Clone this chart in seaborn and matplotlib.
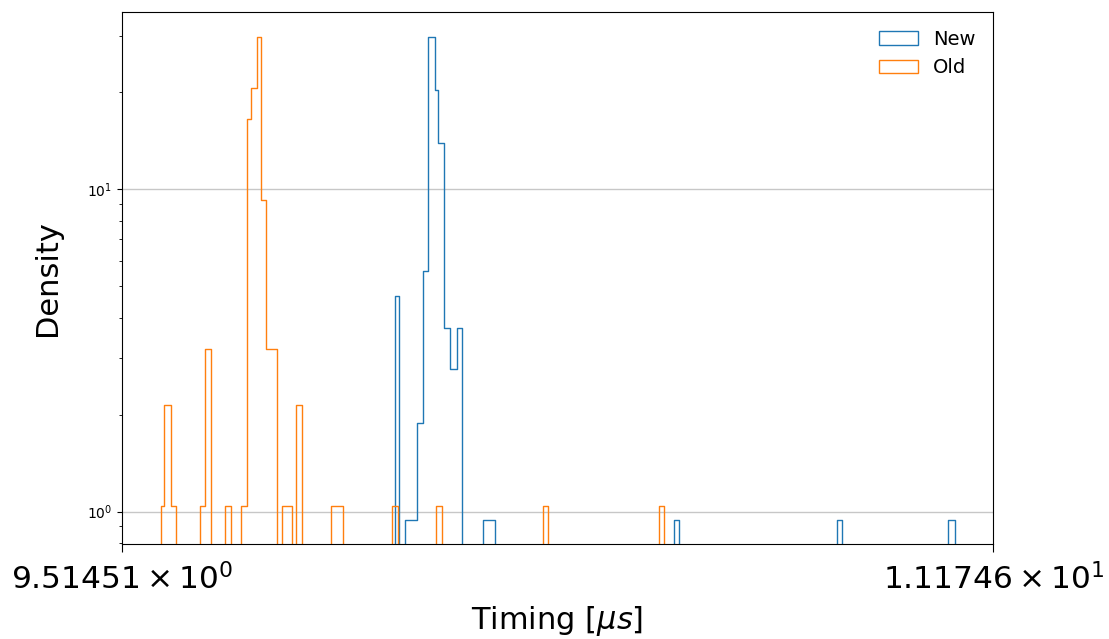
import numpy as np
import seaborn as sns
import matplotlib
matplotlib.use("Agg")
import matplotlib.pyplot as plt
from matplotlib.patches import Patch
from matplotlib.ticker import NullLocator

# bin edges [us] and densities
new_edges = [10.0066, 10.0146, 10.0251, 10.0479, 10.0590, 10.0683, 10.0807, 10.0869,
             10.0981, 10.1087, 10.1212, 10.1317, 10.1710, 10.1930, 10.5359, 10.5456,
             10.8570, 10.8670, 11.0823, 11.0960]
new_density = [4.66, 0, 0.94, 1.88, 5.6, 29.6, 20.3, 13.96, 3.72, 2.77, 3.72,
               0, 0.94, 0, 0.94, 0, 0.94, 0, 0.94]

old_edges = [9.5838, 9.5891, 9.6015, 9.6103, 9.6530, 9.6619, 9.6721, 9.6976, 9.7083,
             9.7257, 9.7365, 9.7442, 9.7545, 9.7622, 9.7712, 9.7906, 9.8007, 9.8188,
             9.8255, 9.8358, 9.8891, 9.9106, 10.0005, 10.0116, 10.0835, 10.0947,
             10.2842, 10.2937, 10.5062, 10.5159]
old_density = [1.04, 2.15, 1.04, 0, 1.04, 3.2, 0, 1.04, 0, 1.04, 16.5, 20.7, 29.6,
               9.3, 3.2, 0, 1.04, 0, 2.15, 0, 1.04, 0, 1.04, 0, 1.04, 0, 1.04, 0, 1.04]

labels = ["New", "Old"]
colors = ["tab:blue", "tab:orange"]
x_ticks = [9.51451, 11.1746]
x_tick_labels = [r"$\mathdefault{9.51451\times10^{0}}$", r"$\mathdefault{1.11746\times10^{1}}$"]

fig, ax = plt.subplots(figsize=(11.09, 6.39), dpi=100)
fig.subplots_adjust(left=0.1097, right=0.8957, top=0.9812, bottom=0.1487)


def draw_hist(edges, density, color):
    edges = np.asarray(edges)
    centers = (edges[:-1] + edges[1:]) / 2
    # empty bins of zero width at both ends so the outline drops to the baseline
    bins = [edges[0]] + list(edges) + [edges[-1]]
    sns.histplot(x=centers, weights=np.asarray(density, dtype=float), bins=bins,
                 element="step", fill=False, color=color, linewidth=1.0, ax=ax)


draw_hist(new_edges, new_density, colors[0])
draw_hist(old_edges, old_density, colors[1])

ax.set_xscale("log")
ax.set_yscale("log")
ax.set_xlim(x_ticks[0], x_ticks[1])
ax.set_ylim(0.794, 35.5)
ax.set_xticks(x_ticks, labels=x_tick_labels)
ax.xaxis.set_minor_locator(NullLocator())
ax.tick_params(axis="x", labelsize=22.5, length=6, pad=7.5)
ax.tick_params(axis="y", labelsize=10)

ax.grid(True, axis="y", which="major", color="#b0b0b0", alpha=0.7, linewidth=1.0)
ax.set_axisbelow(True)

ax.set_xlabel(r"Timing [$\mu s$]", fontsize=22, labelpad=6)
ax.set_ylabel("Density", fontsize=22, labelpad=18)

handles = [Patch(facecolor="none", edgecolor=c, linewidth=1.0) for c in colors]
ax.legend(handles, labels, loc="upper right", frameon=False, fontsize=14)

fig.savefig("out.png", dpi=100)
